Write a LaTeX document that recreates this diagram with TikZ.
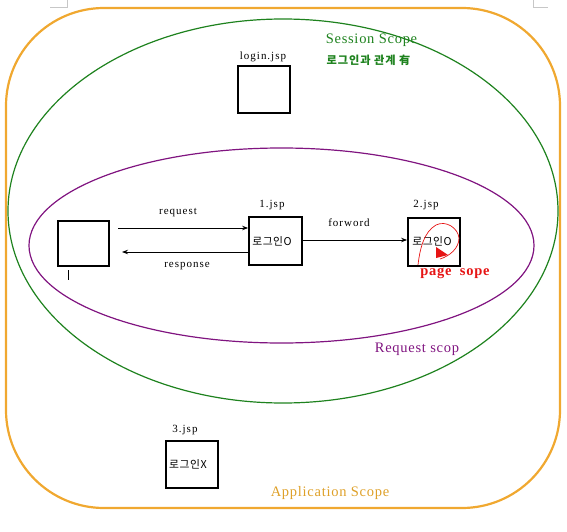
\documentclass[tikz,border=0pt]{standalone}
\usepackage{fontspec}
\setmainfont{Liberation Serif}
\newfontfamily\spserif[LetterSpace=9]{Liberation Serif}
\newfontfamily\spserifb[LetterSpace=5]{Liberation Serif}
\newfontfamily\kr[LetterSpace=5]{Noto Sans CJK KR}
\newfontfamily\krsp[LetterSpace=8]{Noto Sans CJK KR}
\usetikzlibrary{arrows.meta}
\definecolor{appor}{RGB}{240,168,48}
\definecolor{apptxt}{RGB}{222,160,40}
\definecolor{sessg}{RGB}{30,130,30}
\definecolor{reqp}{RGB}{128,20,128}
\definecolor{pgred}{RGB}{230,20,20}
\tikzset{
  jsp/.style={draw=black, line width=1.8pt, minimum width=50pt, minimum height=46pt, inner sep=0pt},
  lbl/.style={font=\spserif\fontsize{11}{13}\selectfont, inner sep=0pt},
  krin/.style={font=\kr\fontsize{10.8}{12}\selectfont, inner sep=0pt},
  conn/.style={line width=0.9pt, -{Stealth[length=6pt,width=4.5pt]}},
  scopelbl/.style={font=\spserifb\fontsize{14.5}{17}\selectfont, inner sep=0pt}
}
\begin{document}
\begin{tikzpicture}[x=1pt,y=-1pt]
\useasboundingbox (0,0) rectangle (567,532);
% page marks
\draw[black!22, line width=0.5pt] (50,7) -- (67,7) -- (67,0);
\draw[black!22, line width=0.5pt] (533,0) -- (533,7) -- (548,7);
% application scope
\draw[appor, line width=2.2pt, rounded corners=98pt] (6,8) rectangle (560,508);
% session ellipse
\draw[sessg, line width=1.2pt] (283,211) ellipse [x radius=275, y radius=192];
% request ellipse
\draw[reqp, line width=1.2pt] (281.5,245.5) ellipse [x radius=252.5, y radius=97.5];
% boxes
\node[jsp, minimum width=52pt, minimum height=47pt] (login) at (264,89.5) {};
\node[jsp, minimum width=51pt, minimum height=45pt] (client) at (83.5,243.5) {};
\node[jsp, minimum width=53pt, minimum height=48pt] (one) at (275.5,241) {};
\node[jsp, minimum width=52pt, minimum height=48pt] (two) at (434,242) {};
\node[jsp, minimum width=52pt, minimum height=47pt] (three) at (192,464.5) {};
% labels
\node[lbl] (loginlbl) at (263,57) {login.jsp};
\node[lbl] (onelbl) at (272,205) {1.jsp};
\node[lbl] (twolbl) at (426,205) {2.jsp};
\node[lbl] (threelbl) at (185,430) {3.jsp};
\node[krin] (onetxt) at (272,241.5) {로그인O};
\node[krin] (twotxt) at (432,241.5) {로그인O};
\node[krin] (threetxt) at (188,464.5) {로그인X};
% client tick
\coordinate (ticka) at (68,270);
\coordinate (tickb) at (68,280);
\draw[black, line width=1pt] (ticka) -- (tickb);
% connectors
\coordinate (reqs) at (118,228);
\coordinate (rese) at (122,252);
\draw[conn] (reqs) -- (reqs -| one.west);
\draw[conn] (rese -| one.west) -- (rese);
\draw[conn] (one.east |- 0,240) -- (two.west |- 0,240);
\node[lbl] (reqlbl) at (178,213) {request};
\node[lbl] (reslbl) at (187,266) {response};
\node[lbl] (fwdlbl) at (349,223) {forword};
% scope titles
\node[scopelbl, text=sessg] (sesslbl) at (371.5,40.5) {Session Scope};
\node[font=\krsp\fontsize{11.2}{12}\bfseries\selectfont, text=sessg, inner sep=0pt] (sesskr) at (368.5,60) {로그인과 관계 有};
\node[scopelbl, text=reqp] (reqscope) at (417,349) {Request scop};
\node[scopelbl, text=apptxt] (appscope) at (330,493) {Application Scope};
\node[font=\spserifb\fontsize{14.5}{17}\bfseries\selectfont, text=pgred, inner sep=0pt] (pagescope) at (455,273) {page\hspace{4pt} sope};
% red scribble
\draw[pgred, line width=0.7pt] (418,265) .. controls (420,248) and (424,232) .. (436,225)
  .. controls (446,220) and (458,228) .. (459,238)
  .. controls (459,248) and (450,256) .. (440,259);
\fill[pgred] (436,247) -- (436,258) -- (448,255) -- cycle;
\end{tikzpicture}
\end{document}
